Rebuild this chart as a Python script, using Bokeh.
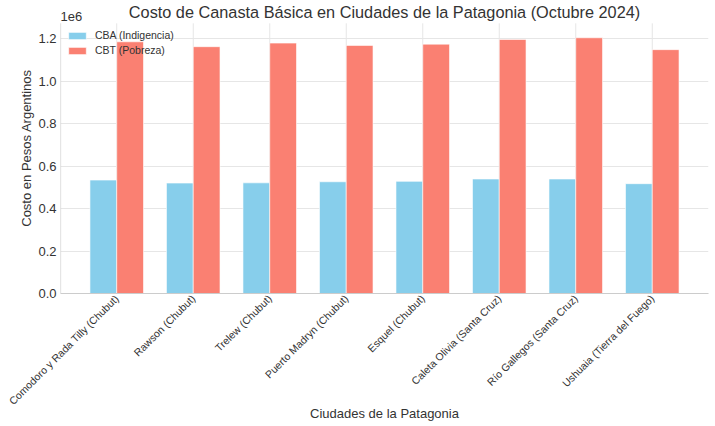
from math import pi
from bokeh.plotting import figure
from bokeh.models import ColumnDataSource, FixedTicker, Range1d, Label, Legend, LegendItem
from bokeh.transform import dodge
from bokeh.embed import file_html
from bokeh.resources import INLINE

cities = [
    "Comodoro y Rada Tilly (Chubut)",
    "Rawson (Chubut)",
    "Trelew (Chubut)",
    "Puerto Madryn (Chubut)",
    "Esquel (Chubut)",
    "Caleta Olivia (Santa Cruz)",
    "Río Gallegos (Santa Cruz)",
    "Ushuaia (Tierra del Fuego)",
]
cba = [534000, 520000, 521000, 526000, 528000, 539000, 539000, 517000]
cbt = [1185000, 1162000, 1179000, 1168000, 1174000, 1196000, 1204000, 1148000]
y_ticks = [0, 200000, 400000, 600000, 800000, 1000000, 1200000]
y_tick_labels = ["0.0", "0.2", "0.4", "0.6", "0.8", "1.0", "1.2"]

FONT = "Liberation Sans"
TXT = "#333333"
YTOP = 1272000     # top of the visible axes area
YEND = 1370000     # extended range to host title and offset text
XL, XR = -0.735, len(cities) - 1 + 0.735

idx = list(range(len(cities)))
src = ColumnDataSource(dict(x=idx, cba=cba, cbt=cbt, city=cities))

p = figure(width=715, height=426, output_backend="svg", toolbar_location=None,
           title=None, x_range=Range1d(XL, XR), y_range=Range1d(0, YEND),
           min_border_left=60, min_border_right=7, min_border_top=2, min_border_bottom=133)

# vertical grid lines and left spine limited to the axes area
p.segment(x0=idx, y0=[0] * len(idx), x1=idx, y1=[YTOP] * len(idx),
          line_color="#e6e6e6", line_width=1, level="underlay")
p.segment(x0=[XL], y0=[0], x1=[XL], y1=[YTOP], line_color="#cccccc", line_width=1.2)

w = 0.35
r1 = p.vbar(x=dodge("x", -w / 2), top="cba", width=w, source=src,
            fill_color="#87CEEB", line_color="white", line_width=0.6)
r2 = p.vbar(x=dodge("x", w / 2), top="cbt", width=w, source=src,
            fill_color="#FA8072", line_color="white", line_width=0.6)

p.outline_line_color = None
p.background_fill_color = "white"
p.border_fill_color = "white"

p.xaxis.ticker = FixedTicker(ticks=idx)
p.xaxis.major_label_overrides = {i: c for i, c in zip(idx, cities)}
p.xaxis.major_label_orientation = pi / 4
p.yaxis.ticker = FixedTicker(ticks=y_ticks)
p.yaxis.major_label_overrides = {t: l for t, l in zip(y_ticks, y_tick_labels)}

for ax in (p.xaxis, p.yaxis):
    ax.axis_line_color = "#cccccc"
    ax.axis_line_width = 1.2
    ax.major_tick_line_color = None
    ax.minor_tick_line_color = None
    ax.major_tick_out = 0
    ax.major_tick_in = 0
    ax.minor_tick_out = 0
    ax.minor_tick_in = 0
    ax.major_label_text_font = FONT
    ax.major_label_text_color = TXT
    ax.axis_label_text_font = FONT
    ax.axis_label_text_font_style = "normal"
    ax.axis_label_text_color = TXT
    ax.axis_label_text_font_size = "13px"
p.yaxis.axis_line_color = None
p.xaxis.major_label_text_font_size = "10.5px"
p.yaxis.major_label_text_font_size = "13px"
p.xaxis.major_label_standoff = 3
p.yaxis.major_label_standoff = 4
p.xaxis.axis_label = "Ciudades de la Patagonia"
p.yaxis.axis_label = "Costo en Pesos Argentinos"
p.xaxis.axis_label_standoff = -8
p.yaxis.axis_label_standoff = 1

p.xgrid.visible = False
p.ygrid.grid_line_color = "#e6e6e6"
p.ygrid.ticker = FixedTicker(ticks=y_ticks)

legend = Legend(items=[LegendItem(label="CBA (Indigencia)", renderers=[r1]),
                       LegendItem(label="CBT (Pobreza)", renderers=[r2])],
                location=(6, 237), border_line_color=None,
                background_fill_alpha=0.0, label_text_font=FONT,
                label_text_font_size="10.5px", label_text_color=TXT,
                glyph_width=22, glyph_height=9, spacing=3, padding=4,
                margin=0, label_standoff=7)
p.add_layout(legend)

p.add_layout(Label(x=(XL + XR) / 2, y=1324000, text="Costo de Canasta Básica en Ciudades de la Patagonia (Octubre 2024)",
                   text_align="center", text_baseline="middle",
                   text_font=FONT, text_font_size="16.3px", text_color=TXT))
p.add_layout(Label(x=XL, y=1305000, text="1e6", text_align="left", text_baseline="middle",
                   text_font=FONT, text_font_size="13px", text_color=TXT))

open("out.html", "w").write(file_html(p, INLINE))
